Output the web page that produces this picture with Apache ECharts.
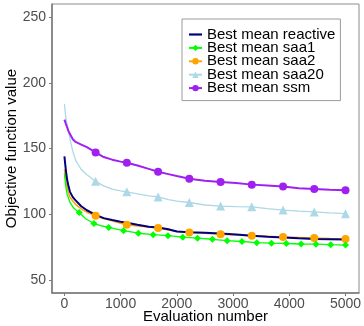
<!DOCTYPE html>
<html>
<head>
<meta charset="utf-8">
<script src="https://cdn.jsdelivr.net/npm/echarts@6/dist/echarts.min.js"></script>
<style>
  html, body { margin: 0; padding: 0; background: #fff; }
  #chart { width: 364px; height: 326px; }
</style>
</head>
<body>
<div id="chart"></div>
<script>
// 评估次数（x）
var evals9 = [1, 25, 50, 75, 100, 150, 200, 300, 400, 556, 700, 850, 1000, 1111, 1300, 1500, 1667, 1850, 2000, 2222, 2500, 2778, 3056, 3333, 3611, 3889, 4167, 4444, 4722, 5000];
var marks9 = [556, 1111, 1667, 2222, 2778, 3333, 3889, 4444, 5000];
var evalsSaa1 = [1, 25, 50, 100, 150, 200, 263, 380, 526, 650, 789, 1053, 1316, 1579, 1842, 2105, 2368, 2632, 2895, 3158, 3421, 3684, 3947, 4211, 4474, 4737, 5000];
var marksSaa1 = [263, 526, 789, 1053, 1316, 1579, 1842, 2105, 2368, 2632, 2895, 3158, 3421, 3684, 3947, 4211, 4474, 4737, 5000];

// 各方法的最优均值
var reactive = [144, 134, 126, 121, 117, 113, 110.5, 106, 103, 99.5, 97, 95.5, 94.3, 93.5, 92, 90.5, 89.8, 88.5, 86.8, 86.3, 85.9, 85.3, 84.5, 83.6, 82.8, 82.2, 81.6, 81.2, 81, 80.8];
var saa1 = [131, 121, 115, 109, 105.5, 103.3, 101.3, 96.5, 92.9, 91.2, 89.9, 87.4, 85.5, 84.4, 83.6, 82.5, 81.7, 80.9, 79.8, 79.2, 78.3, 77.9, 77.7, 77.3, 77.2, 76.8, 76.5];
var saa2 = [134, 125, 120, 116, 113, 110, 107.5, 104, 101.5, 98.8, 96.5, 95, 93, 92, 91, 90.2, 89.4, 88, 87, 86.1, 85.4, 84.8, 84.2, 83.6, 83.2, 82.6, 82.2, 81.8, 81.4, 81.1];
var saa20 = [184, 174, 168, 163, 157, 148, 141, 134, 130, 125, 121.5, 119, 117.8, 117, 115.5, 114, 113.1, 111, 110, 108.9, 107, 106.2, 105.8, 105.6, 104.2, 103.1, 102.3, 101.7, 101, 100.4];
var ssm = [172, 169, 166, 163, 161, 157, 155, 153, 151, 147, 143.5, 141.5, 140, 139.2, 137, 134.5, 132.3, 130.5, 129, 127, 125.5, 124.5, 123.8, 122.5, 121.8, 121, 119.8, 119.2, 118.6, 118.2];

// 刻度
var xTicks = [0, 1000, 2000, 3000, 4000, 5000];
var yTicks = [50, 100, 150, 200, 250];

var font = '"Liberation Sans", Arial, sans-serif';

// 只在标记位置画符号
function makeData(xs, ys, marks) {
    return xs.map(function (x, i) {
        if (marks && marks.indexOf(x) >= 0) return [x, ys[i]];
        return { value: [x, ys[i]], symbol: 'none' };
    });
}

var chart = echarts.init(document.getElementById('chart'));

var option = {
    animation: false,
    textStyle: { fontFamily: font },
    grid: {
        left: 52, right: 5, top: 4, bottom: 33,
        outerBoundsMode: 'none',
        show: true, borderColor: '#8c8c8c', borderWidth: 1
    },
    legend: {
        left: 182, top: 19,
        orient: 'vertical',
        backgroundColor: '#fff',
        borderColor: '#9a9a9a', borderWidth: 1,
        padding: [8, 5, 5, 6],
        itemWidth: 13, itemHeight: 8, itemGap: -1.6,
        textStyle: { fontFamily: font, fontSize: 15, color: '#000' },
        data: [
            { name: 'Best mean reactive', icon: 'path://M0,0 L13,0 L13,2.2 L0,2.2 Z' },
            'Best mean saa1', 'Best mean saa2', 'Best mean saa20', 'Best mean ssm'
        ]
    },
    xAxis: {
        type: 'value', min: -220, max: 5240,
        name: 'Evaluation number', nameLocation: 'middle', nameGap: 16, nameMoveOverlap: false,
        nameTextStyle: { fontFamily: font, fontSize: 15, color: '#000' },
        splitLine: { show: false },
        axisLine: { onZero: false, lineStyle: { color: '#7a7a7a', width: 1.5 } },
        axisTick: { customValues: xTicks, length: 3, lineStyle: { color: '#7a7a7a' } },
        axisLabel: { customValues: xTicks, fontSize: 14, color: '#4d4d4d', margin: 4,
            formatter: function (v) { return String(v); } }
    },
    yAxis: {
        type: 'value', min: 40, max: 260,
        name: 'Objective function value', nameLocation: 'middle', nameGap: 33, nameMoveOverlap: false,
        nameTextStyle: { fontFamily: font, fontSize: 15, color: '#000' },
        splitLine: { show: false },
        axisLine: { show: true, onZero: false, lineStyle: { color: '#7a7a7a', width: 1.5 } },
        axisTick: { show: true, customValues: yTicks, length: 3, lineStyle: { color: '#7a7a7a' } },
        axisLabel: { customValues: yTicks, fontSize: 14, color: '#4d4d4d', margin: 6,
            formatter: function (v) { return String(v); } }
    },
    series: [
        {
            name: 'Best mean saa2', type: 'line', data: makeData(evals9, saa2, marks9),
            symbol: 'circle', symbolSize: 8, showAllSymbol: true,
            color: '#FFA500', lineStyle: { width: 1.5 }
        },
        {
            name: 'Best mean saa1', type: 'line', data: makeData(evalsSaa1, saa1, marksSaa1),
            symbol: 'diamond', symbolSize: 7, showAllSymbol: true,
            color: '#00FF00', lineStyle: { width: 1.3 }
        },
        {
            name: 'Best mean saa20', type: 'line', data: makeData(evals9, saa20, marks9),
            symbol: 'triangle', symbolSize: 9, showAllSymbol: true,
            color: '#ADD8E6', lineStyle: { width: 1.3 }
        },
        {
            name: 'Best mean ssm', type: 'line', data: makeData(evals9, ssm, marks9),
            symbol: 'circle', symbolSize: 8, showAllSymbol: true,
            color: '#A020F0', lineStyle: { width: 2 }
        },
        {
            name: 'Best mean reactive', type: 'line', data: makeData(evals9, reactive, null),
            symbol: 'none',
            color: '#000080', lineStyle: { width: 2 }
        }
    ]
};

chart.setOption(option);
</script>
</body>
</html>
